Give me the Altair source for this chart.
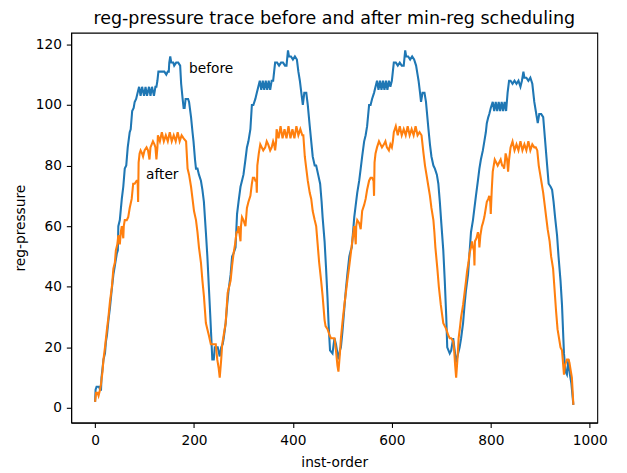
import altair as alt
import pandas as pd

# ---- "before" trace (inst-order, reg-pressure) ----
before_x = [
    0, 1, 3, 8, 10, 12, 13, 17, 20, 22, 24, 27, 30, 33, 37, 40, 44, 46, 47, 50, 54, 57, 60, 63, 66, 70, 72, 75, 78, 80,
    83, 86, 89, 92, 95, 99, 102, 105, 109, 112, 115, 119, 122, 124, 126, 128, 135, 140, 144, 147, 149,
    150, 152, 154, 158, 160, 164, 168, 172, 174, 177, 179, 181, 183, 188, 190, 194, 197, 199, 202, 204, 207, 210, 214,
    217, 220, 224, 227, 230, 233, 235, 237, 240, 242, 248, 252, 255,
    258, 260, 264, 267, 270, 274, 277, 280, 284, 287, 290, 294, 297, 300, 304, 307, 310, 314, 317, 320, 324, 327, 330,
    333, 336, 339, 342, 345, 348, 351, 354, 357, 360, 362, 364, 368, 372, 376, 380, 384, 387,
    390, 392, 396, 400, 404, 408, 411, 414, 417, 420, 423, 427, 430, 434, 437, 440, 444, 447, 451, 455, 458, 460, 464,
    467, 470, 472, 475, 480, 484, 487, 490, 492, 495, 497,
    500, 504, 507, 510, 514, 517, 519, 524, 527, 530, 534, 537, 540, 544, 547, 550, 554, 557, 560, 564, 567, 570,
    573, 576, 579, 582, 585, 588, 591, 594, 597, 600, 602, 604, 608, 612, 616, 620, 624, 627, 629,
    633, 637, 641, 645, 649, 652, 654, 657, 659, 662, 666, 669, 674, 677, 680, 684, 687, 691, 694, 697, 700, 704, 707,
    710, 712, 717, 720, 724,
    727, 730, 734, 737, 740, 744, 747, 750, 754, 757, 760, 764, 767, 770, 774, 777, 780, 784, 787, 790, 792, 795, 797,
    800, 804, 807, 810, 813, 816, 819, 822, 825, 828, 831, 834, 837, 840, 844, 848, 852, 856,
    860, 863, 866, 868, 872, 876, 880, 884, 888, 891, 895, 898, 902, 906, 908, 910, 914, 917, 921, 924, 927, 930, 934,
    937, 941, 944, 948, 951, 954, 957, 960, 963, 967,
]
before_y = [
    2, 6, 7, 7, 6, 6, 10, 16, 18, 22, 24, 29, 33, 38, 44, 47, 51, 52, 60, 62, 69, 73, 79, 80, 86, 91, 92, 98, 99, 101,
    102, 104, 106, 103, 106, 103, 106, 103, 106, 103, 106, 103, 106, 106, 108, 111, 111, 111, 110, 111, 111,
    114, 116, 114, 114, 113, 114, 114, 113, 107, 102, 99, 99, 102, 102, 101, 96, 91, 88, 82, 79, 79, 77, 75,
    72, 68, 58, 50, 40, 30, 23, 16, 16, 20, 20, 17, 20,
    21, 23, 28, 34, 39, 44, 50, 51, 53, 64, 68, 73, 75, 77, 82, 86, 88, 92, 100, 100, 102, 104, 106,
    108, 105, 108, 105, 108, 105, 108, 105, 108, 108, 111, 114, 114, 113, 114, 114, 113, 113,
    118, 116, 116, 115, 116, 115, 111, 108, 104, 100, 104, 104, 100, 93, 88, 83, 80, 80, 77, 74, 68, 63, 55,
    46, 36, 28, 19, 18, 23, 21, 18, 16, 19, 20,
    25, 33, 39, 44, 50, 52, 53, 63, 67, 71, 75, 79, 83, 88, 90, 93, 100, 100, 102, 104, 106, 108,
    105, 108, 105, 108, 105, 108, 105, 108, 106, 108, 111, 114, 114, 113, 114, 113, 113, 118, 116,
    116, 115, 116, 115, 113, 110, 108, 104, 101, 104, 104, 101, 92, 87, 83, 80, 79, 77, 74, 68, 61, 52, 42,
    30, 20, 18, 19, 23,
    19, 15, 18, 20, 23, 28, 34, 39, 44, 51, 58, 62, 66, 70, 75, 79, 82, 85, 88, 91, 94, 96, 97,
    99, 101, 98, 101, 98, 101, 98, 101, 98, 101, 98, 104, 108, 108, 107, 108, 107, 108,
    106, 108, 111, 109, 109, 108, 109, 107, 101, 98, 94, 97, 97, 96, 92, 88, 80, 74, 73, 72, 68, 63, 57,
    50, 42, 34, 18, 12, 11, 16, 11, 8, 1,
]

# ---- "after" trace ----
after_x = [
    0, 2, 5, 7, 10, 12, 15, 17, 20, 24, 27, 30, 34, 37, 40, 42, 45, 47, 50, 52, 54, 57, 58, 60, 64, 67, 70, 74, 77, 80,
    84, 86, 87, 88, 90, 92, 95, 97, 100, 104, 107, 110, 112, 117, 120, 122, 124, 126, 127, 131, 135, 139,
    143, 147, 151, 155, 159, 163, 167, 171, 175, 179, 184, 187, 190,
    194, 197, 200, 204, 207, 210, 214, 217, 220, 224, 227, 230, 234, 240, 244, 247, 250, 252, 255,
    257, 260, 264, 268, 271, 274, 277, 280, 283, 286, 288, 290, 294, 295, 297, 300, 302, 304, 306, 307, 310, 314, 317,
    319, 322, 324, 326, 327, 328, 331, 334, 337, 340, 344, 347, 350, 354, 357, 360, 362, 364, 366, 367, 371, 375,
    379, 383, 387, 391, 395, 399, 403, 407, 411, 415, 419, 421, 424,
    427, 430, 434, 437, 440, 444, 447, 450, 453, 457, 460, 464, 466, 470, 474, 477, 481, 484, 487, 490, 492, 495,
    497, 500, 504, 507, 510, 514, 517, 520, 524, 527, 528, 530, 534, 537, 539, 540, 544, 547, 550, 554, 557, 560, 563,
    564, 565, 567, 570, 574, 577, 580, 584, 587, 590, 594, 597, 600, 602, 604, 608, 612, 616, 620,
    624, 628, 632, 636, 640, 644, 648, 652, 656, 660, 664, 667, 670, 674, 677,
    680, 684, 686, 688, 692, 695, 699, 704, 707, 710, 714, 717, 720, 724, 726, 728, 730, 733,
    735, 738, 740, 744, 747, 750, 752, 755, 757, 760, 762, 764, 766, 767, 768, 771, 774, 776, 777, 779, 782, 784, 787,
    790, 792, 795, 797, 799, 800, 802, 804, 806, 808, 811, 814, 817, 820, 823, 825, 827, 829, 830, 833, 835, 837, 840,
    844, 848, 852, 856, 860, 864, 868, 872, 876, 880, 884, 888,
    891, 894, 897, 900, 903, 906, 909, 912, 915, 919, 922, 926, 929, 932, 935, 939, 941, 944, 946, 948, 950, 954, 957,
    959, 962, 964, 967,
]
after_y = [
    2, 5, 5, 4, 6, 8, 12, 16, 20, 26, 30, 35, 40, 46, 48, 52, 54, 57, 54, 58, 60, 56, 60, 62, 62, 63, 66, 69, 74, 74,
    75, 75, 68, 81, 84, 85, 84, 83, 85, 86, 85, 82, 86, 88, 87, 86, 82, 86, 90, 88, 91, 88,
    90, 88, 91, 88, 90, 88, 91, 88, 90, 89, 88, 79, 77,
    73, 69, 65, 62, 58, 53, 48, 42, 37, 28, 26, 24, 21, 21, 21, 16, 13, 10, 16,
    21, 24, 28, 38, 40, 42, 47, 51, 54, 58, 58, 60, 55, 60, 63, 62, 61, 60, 64, 66, 68, 70, 74,
    76, 76, 75, 75, 71, 80, 84, 87, 86, 85, 86, 88, 87, 85, 86, 88, 87, 85, 88, 92, 89, 93,
    89, 92, 89, 93, 89, 92, 89, 93, 90, 92, 90, 90, 83,
    79, 75, 71, 69, 65, 62, 60, 54, 48, 42, 37, 29, 27, 26, 24, 23, 23, 23, 19, 14, 12, 18,
    23, 28, 34, 38, 42, 47, 51, 55, 60, 54, 60, 62, 61, 59, 63, 65, 67, 69, 72, 75, 76, 76, 75,
    70, 81, 84, 86, 88, 87, 86, 87, 88, 86, 85, 87, 86, 88, 91, 93, 90, 93, 90,
    92, 90, 93, 90, 92, 90, 93, 90, 91, 90, 84, 80, 77, 73, 70,
    66, 62, 58, 53, 46, 40, 34, 28, 27, 26, 24, 23, 23, 22, 19, 14, 10, 17,
    23, 27, 30, 34, 38, 42, 45, 48, 51, 53, 55, 53, 52, 47, 55, 56, 58, 56, 53, 57, 60, 61, 63,
    66, 68, 69, 70, 68, 64, 72, 78, 80, 82, 81, 80, 81, 82, 80, 80, 79, 82, 84, 82, 78, 82, 86,
    88, 85, 87, 85, 88, 85, 87, 85, 88, 85, 87, 86,
    86, 85, 80, 77, 74, 71, 67, 63, 59, 55, 50, 46, 39, 32, 26, 22, 20, 19, 15, 11, 14, 16, 16,
    15, 12, 10, 1,
]

title_text = ["reg-pressure trace before and after min-reg scheduling"]
x_ticks = [0, 200, 400, 600, 800, 1000]
y_ticks = [0, 20, 40, 60, 80, 100, 120]
label_x = [190, 103]
label_y = [110.5, 75.5]
label_t = ["before", "after"]

before_df = pd.DataFrame({"x": before_x, "y": before_y})
after_df = pd.DataFrame({"x": after_x, "y": after_y})
labels = pd.DataFrame({"x": label_x, "y": label_y, "t": label_t})
title_df = pd.DataFrame({"t": title_text})

FONT = "DejaVu Sans"
W, H = 533, 395
xs = alt.Scale(domain=[-48.35, 1015.35], nice=False, zero=False)
ys = alt.Scale(domain=[-4.85, 123.85], nice=False, zero=False)

xenc = alt.X("x:Q", scale=xs, axis=alt.Axis(title="inst-order", values=x_ticks, grid=False, format="d"))
yenc = alt.Y("y:Q", scale=ys, axis=alt.Axis(title="reg-pressure", values=y_ticks, grid=False, format="d"))

blue = alt.Chart(before_df).mark_line(color="#1f77b4", strokeWidth=2.1, clip=True).encode(x=xenc, y=yenc)
orange = alt.Chart(after_df).mark_line(color="#ff7f0e", strokeWidth=2.1, clip=True).encode(x=xenc, y=yenc)
text = alt.Chart(labels).mark_text(align="left", baseline="alphabetic", font=FONT, fontSize=13.9,
                                   color="#000000").encode(x=alt.X("x:Q", scale=xs), y=alt.Y("y:Q", scale=ys), text="t:N")
title = alt.Chart(title_df).mark_text(align="center", baseline="alphabetic", font=FONT, fontSize=17.7,
                                      color="#000000").encode(x=alt.value(W / 2), y=alt.value(-8.5), text="t:N")

chart = alt.layer(blue, orange, text, title).properties(
    width=W, height=H,
    background="white",
    autosize=alt.AutoSizeParams(type="none"),
    padding={"left": 64, "top": 22, "right": 22, "bottom": 48},
).configure_view(stroke="#000000", strokeWidth=1.1).configure_axis(
    domainColor="#000000", domainWidth=1.1, tickColor="#000000", tickWidth=1.1, tickSize=4.9,
    labelFont=FONT, labelFontSize=13.9, labelColor="#000000", labelPadding=4.9,
    titleFont=FONT, titleFontSize=13.9, titleFontWeight="normal", titleColor="#000000",
).configure_axisY(titlePadding=8).configure_axisX(titlePadding=8, labelPadding=6.4)

chart.save("out.html", embed_options={"renderer": "svg", "actions": False})
